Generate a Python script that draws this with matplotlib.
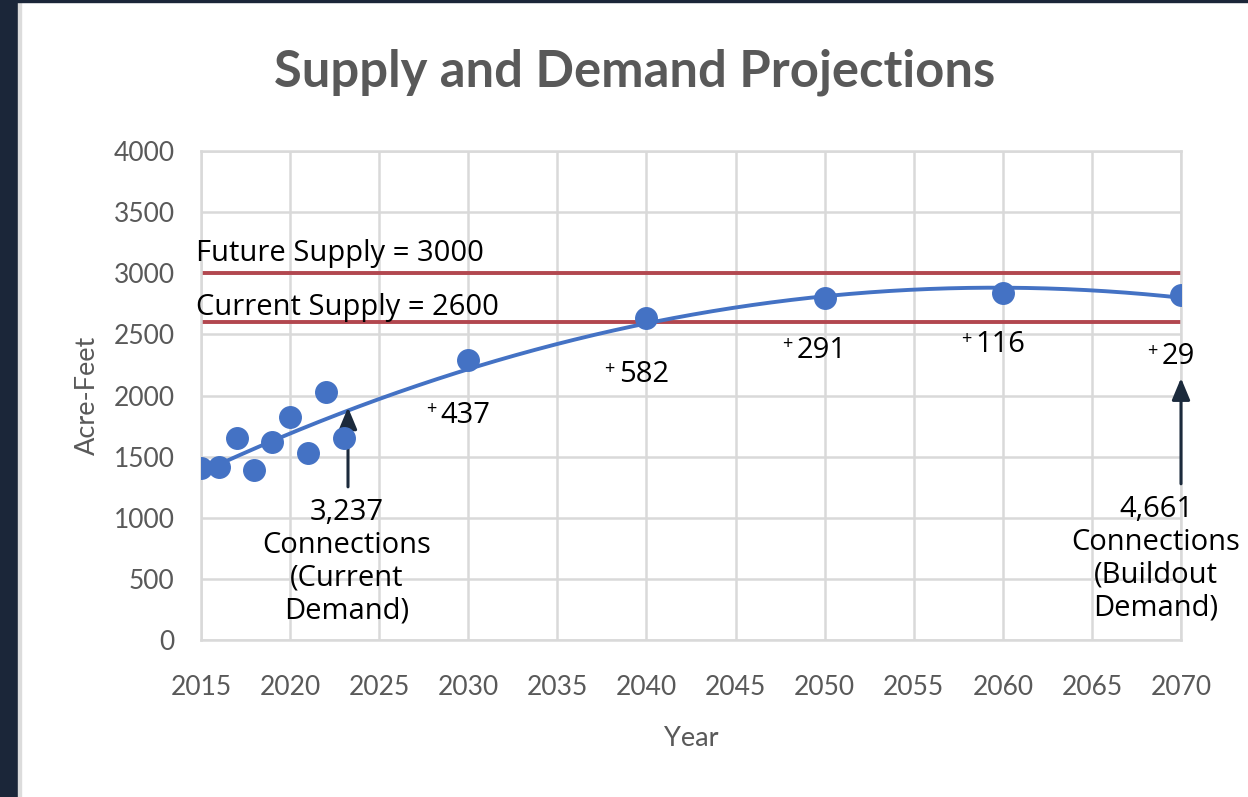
import numpy as np
import matplotlib.pyplot as plt
from matplotlib.patches import Rectangle

# demand data (acre-feet)
years = [2015, 2016, 2017, 2018, 2019, 2020, 2021, 2022, 2023,
         2030, 2040, 2050, 2060, 2070]
demand = [1405, 1418, 1650, 1391, 1623, 1827, 1528, 2032, 1650,
          2291, 2634, 2797, 2838, 2823]

future_supply = 3000
current_supply = 2600

# increments shown under the projected points
inc_years = [2030, 2040, 2050, 2060, 2070]
inc_labels = ["437", "582", "291", "116", "29"]
inc_values = [1840, 2170, 2370, 2414, 2320]

x_ticks = list(range(2015, 2071, 5))
y_ticks = list(range(0, 4001, 500))

blue = "#4472C4"
red = "#B2474F"
navy = "#1B2A3C"
gray = "#595959"
grid = "#D9D9D9"
ann_font = "Open Sans"
xl_font = "Lato"
ann_size = 21

fig = plt.figure(figsize=(12.48, 7.97), dpi=100)
fig.patches.append(Rectangle((0, 0), 18 / 1248, 1, transform=fig.transFigure,
                             color="#1B2639", zorder=0))
fig.patches.append(Rectangle((18 / 1248, 0), 3 / 1248, 1, transform=fig.transFigure,
                             color="#DCDCDC", zorder=0))
fig.patches.append(Rectangle((0, 1 - 2 / 797), 1, 2 / 797, transform=fig.transFigure,
                             color="#1B2639", zorder=0))

ax = fig.add_axes([201 / 1248, 1 - 640 / 797, 980 / 1248, 489 / 797])

# polynomial trendline through all points
coef = np.polyfit(years, demand, 2)
tx = np.linspace(2015, 2070, 300)
ax.plot(tx, np.polyval(coef, tx), color=blue, lw=2.8, zorder=3)
ax.plot(years, demand, "o", color=blue, ms=15.5, mec=blue, zorder=4)

# supply lines
ax.plot([2015, 2070], [future_supply] * 2, color=red, lw=2.8, zorder=2)
ax.plot([2015, 2070], [current_supply] * 2, color=red, lw=2.8, zorder=2)
ax.text(2014.7, 3158, "Future Supply = 3000", fontsize=ann_size,
        family=ann_font, color="black", ha="left", va="center")
ax.text(2014.7, 2716, "Current Supply = 2600", fontsize=ann_size,
        family=ann_font, color="black", ha="left", va="center")

for yr, lab, v in zip(inc_years, inc_labels, inc_values):
    t = ax.text(yr - 0.15, v, lab, fontsize=ann_size, family=ann_font,
                ha="center", va="center", color="black")
    ax.annotate("+", xy=(0, 0.7), xycoords=t, xytext=(-3, 0),
                textcoords="offset points", fontsize=13, family=ann_font,
                ha="right", va="center", color="black")

# arrows + connection notes
arrow = dict(arrowstyle="-|>,head_length=0.6,head_width=0.25",
             color=navy, lw=2.2, mutation_scale=22)
ax.annotate("", xy=(2023.25, 1925), xytext=(2023.25, 1230), arrowprops=arrow)
ax.text(2023.2, 1165, "3,237\nConnections\n(Current\nDemand)", fontsize=ann_size,
        family=ann_font, ha="center", va="top", linespacing=1.18)
ax.annotate("", xy=(2070, 2165), xytext=(2070, 1255), arrowprops=arrow)
ax.text(2068.6, 1185, "4,661\nConnections\n(Buildout\nDemand)", fontsize=ann_size,
        family=ann_font, ha="center", va="top", linespacing=1.17)

ax.set_xlim(2015, 2070)
ax.set_ylim(0, 4000)
ax.set_xticks(x_ticks)
ax.set_yticks(y_ticks)
ax.grid(True, color=grid, lw=1.8, zorder=0)
ax.set_axisbelow(True)
for s in ax.spines.values():
    s.set_color(grid)
    s.set_linewidth(1.8)
ax.tick_params(length=0, labelsize=19, labelcolor=gray)
ax.tick_params(axis="x", pad=25)
ax.tick_params(axis="y", pad=19)
for lab in ax.get_xticklabels() + ax.get_yticklabels():
    lab.set_family(xl_font)
ax.set_xlabel("Year", fontsize=19.5, color=gray, family=xl_font, labelpad=19)
ax.set_ylabel("Acre-Feet", fontsize=19.5, color=gray, family=xl_font,
              labelpad=10)
fig.text(635 / 1248, 1 - 72 / 797, "Supply and Demand Projections", fontsize=36.5,
         fontweight="bold", color=gray, family=xl_font, ha="center", va="center")

fig.savefig("out.png", dpi=100)
